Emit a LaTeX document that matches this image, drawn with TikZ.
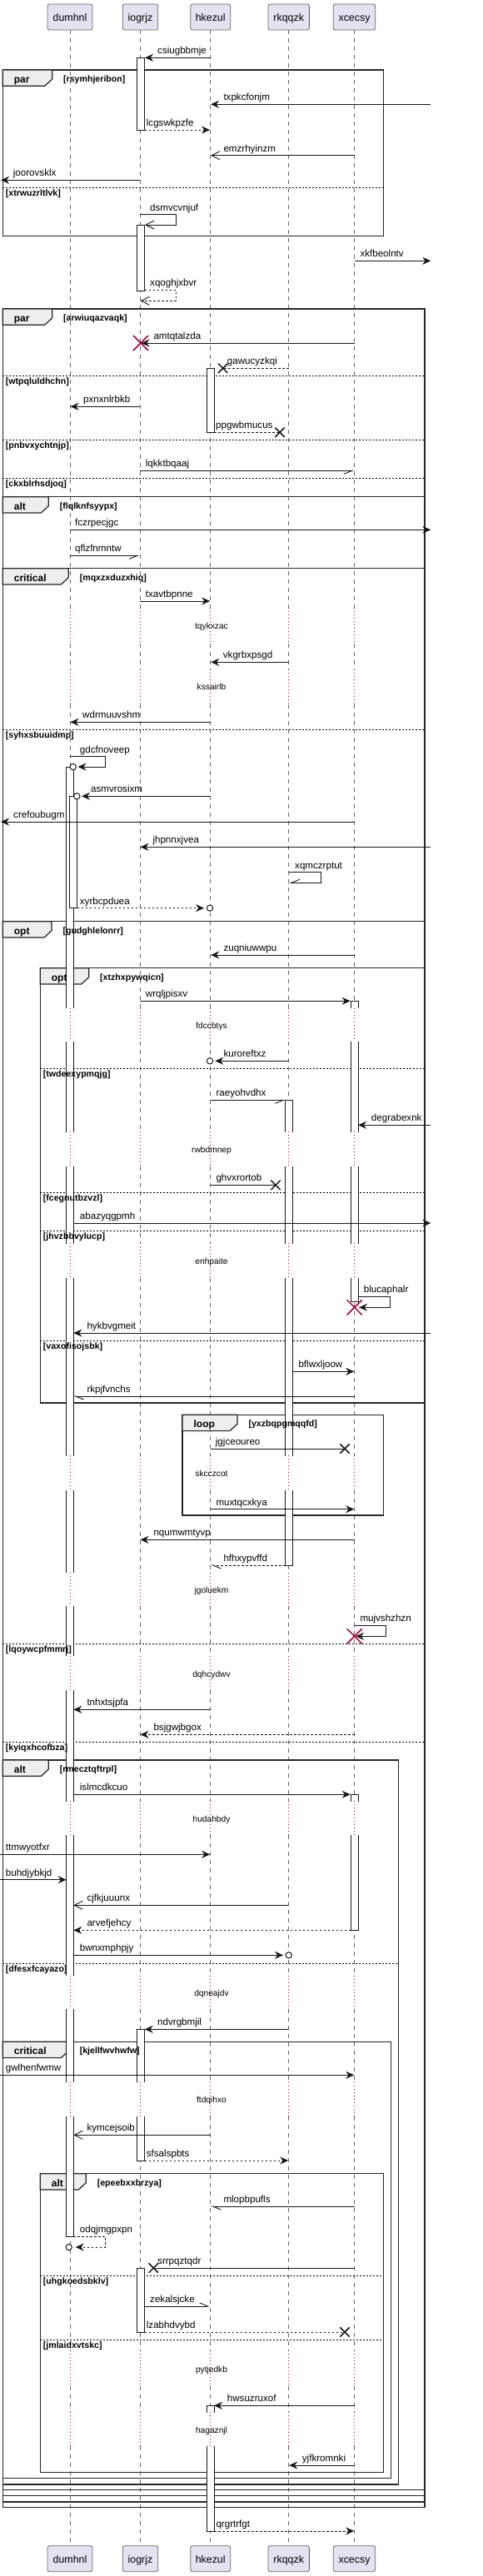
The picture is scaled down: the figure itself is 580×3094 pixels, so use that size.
\documentclass[tikz,border=0pt]{standalone}
\usepackage{fontspec}
\setmainfont{Liberation Sans}
\usetikzlibrary{arrows.meta}
\definecolor{pfill}{HTML}{E2E2F0}
\definecolor{dred}{HTML}{A80036}
\definecolor{ink}{HTML}{181818}
\definecolor{tabg}{HTML}{EEEEEE}
\tikzset{
  life/.style={draw=ink!65, line width=0.6pt, dash pattern=on 5pt off 5pt},
  delayl/.style={draw=dred, line width=0.8pt, dash pattern=on 1pt off 3pt},
  msg/.style={draw=ink, line width=0.9pt},
  dsh/.style={dash pattern=on 2.5pt off 2.5pt},
  fa/.style={-{Stealth[length=10pt,width=9pt,inset=3.3pt]}},
  oa/.style={-{Straight Barb[length=10pt,width=10pt]}},
  hr/.style={-{Straight Barb[length=10pt,width=8pt,right]}},
  hl/.style={-{Straight Barb[length=10pt,width=8pt,left]}},
  lbl/.style={font=\fontsize{11.6}{13}\selectfont, anchor=base west, inner sep=0pt},
  dly/.style={font=\fontsize{10.2}{12}\selectfont, anchor=base, inner sep=0pt},
  frame/.style={draw=black!85, line width=1.5pt},
  tabst/.style={draw=black!85, line width=1.2pt, fill=tabg},
  kw/.style={font=\bfseries\fontsize{12}{14}\selectfont, anchor=base west, inner sep=0pt},
  cond/.style={font=\bfseries\fontsize{10.6}{12}\selectfont, anchor=base west, inner sep=0pt},
  elsel/.style={draw=black, line width=0.8pt, dash pattern=on 2pt off 2pt},
  act/.style={draw=ink, line width=0.9pt, line cap=rect},
  part/.style={draw=black!60, line width=0.8pt, fill=pfill, rounded corners=2.5pt, minimum height=31pt, inner sep=0pt},
  ptxt/.style={font=\fontsize{12.4}{14}\selectfont, anchor=base, inner sep=0pt},
  xmk/.style={draw=ink, line width=1.5pt},
  rxmk/.style={draw=dred, line width=1.5pt},
  circ/.style={draw=ink, line width=1pt, fill=white},
}
\newcommand\Msg[6]{\draw[msg,#1] (#2,#4) -- (#3,#4); \node[lbl] at ({#5},{#4-4.5}) {#6};}
\newcommand\Self[8]{\draw[msg,#1] (#2,#4) -- (#3,#4) -- (#3,#5) -- (#6,#5); \node[lbl] at ({#7},{#4-4.5}) {#8};}
\newcommand\Xm[2]{\draw[xmk] ({#1-5.7},{#2-5.7}) -- ({#1+5.7},{#2+5.7}) ({#1-5.7},{#2+5.7}) -- ({#1+5.7},{#2-5.7});}
\newcommand\RXm[2]{\draw[rxmk] ({#1-9},{#2-9}) -- ({#1+9},{#2+9}) ({#1-9},{#2+9}) -- ({#1+9},{#2-9});}
\newcommand\Circ[2]{\draw[circ] (#1,#2) circle (3.7pt);}
% graphics pass
\newcommand\FrameG[7]{%
  \draw[frame] (#1,#3) rectangle (#2,#4);
  \draw[tabst] (#1,#3) -- ({#1+#5},#3) -- ({#1+#5},{#3+11}) -- ({#1+#5-9},{#3+19.3}) -- (#1,{#3+19.3}) -- cycle;}
\newcommand\ElseG[4]{\draw[elsel] (#1,#3) -- (#2,#3);}
% text pass
\newcommand\FrameT[7]{%
  \node[kw] at ({#1+13.4},{#3+15.3}) {#6};
  \node[cond] at ({#1+#5+13.3},{#3+14.3}) {#7};}
\newcommand\ElseT[4]{\node[cond] at ({#1+3.4},{#3+10}) {#4};}
\newcommand\FrameList{%
\Frame{3.3}{460.3}{84}{283.3}{59.4}{par}{[rsymhjeribon]}
\Else{3.3}{460.3}{225.3}{[xtrwuzrltlvk]}
\Frame{3.3}{510}{371}{3011.7}{59.4}{par}{[arwiuqazvaqk]}
\Else{3.3}{510}{451.3}{[wtpqluldhchn]}
\Else{3.3}{510}{528.3}{[pnbvxychtnjp]}
\Else{3.3}{510}{574.3}{[ckxblrhsdjoq]}
\Frame{3.3}{510}{596.7}{3005}{55}{alt}{[flqlknfsyypx]}
\Frame{3.3}{510}{682.7}{2997.7}{79}{critical}{[mqxzxduzxhiq]}
\Else{3.3}{510}{876}{[syhxsbuuidmp]}
\Frame{3.3}{510}{1106.7}{2990.7}{58.7}{opt}{[gudghlelonrr]}
\Frame{48.3}{510}{1162.7}{1685}{58.4}{opt}{[xtzhxpywqicn]}
\Else{48.3}{510}{1283}{[twdeexypmqjg]}
\Else{48.3}{510}{1432}{[fcegnutbzvzl]}
\Else{48.3}{510}{1478}{[jhvzbbvylucp]}
\Else{48.3}{510}{1610}{[vaxofisojsbk]}
\Frame{219}{460.3}{1699.3}{1820}{66}{loop}{[yxzbqpgmqqfd]}
\Else{3.3}{510}{1974.3}{[lqoywcpfmmrj]}
\Else{3.3}{510}{2092.3}{[kyiqxhcofbza]}
\Frame{3.3}{478.3}{2114}{2984}{55}{alt}{[rmecztqftrpl]}
\Else{3.3}{478.3}{2358.3}{[dfesxfcayazo]}
\Frame{3.3}{469.3}{2452.3}{2976.7}{79}{critical}{[kjellfwvhwfw]}
\Frame{48.3}{460.3}{2610.7}{2969.3}{55}{alt}{[epeebxxbrzya]}
\Else{48.3}{460.3}{2733}{[uhgkoedsbklv]}
\Else{48.3}{460.3}{2810}{[jmlaidxvtskc]}}
\newcommand\Act[6]{%
  \fill[white] (#1,#3) rectangle (#2,#4);
  \draw[act] (#1,#3) -- (#1,#4) (#2,#3) -- (#2,#4);
  \ifnum#5=1 \draw[act] (#1,#3) -- (#2,#3);\fi
  \ifnum#6=1 \draw[act] (#1,#4) -- (#2,#4);\fi}

\begin{document}
\begin{tikzpicture}[x=1pt,y=-1pt]
\fill[white] (0,0) rectangle (580,3094);
\useasboundingbox (0,0) rectangle (580,3094);

% lifelines
\foreach \lx in {84,168,252.7,346.7,425.7} {
  \foreach \a/\b in {36/730, 773/804, 846/1211, 1251/1359.3, 1401/1493.3, 1535/1748.3, 1790/1889, 1929.3/1989, 2030/2163.3, 2204.3/2372.7, 2413.3/2500.7, 2542.3/2823.3, 2866/2897.3, 2938.3/3057.3}
    \draw[life] (\lx,\a) -- (\lx,\b);
  \foreach \a/\b in {730/773, 804/846, 1211/1251, 1359.3/1401, 1493.3/1535, 1748.3/1790, 1889/1929.3, 1989/2030, 2163.3/2204.3, 2372.7/2413.3, 2500.7/2542.3, 2823.3/2866, 2897.3/2938.3}
    \draw[delayl] (\lx,\a) -- (\lx,\b);
}
% delay texts
\foreach \t/\ty in {tqykxzac/752.3, kssairlb/825.3, fdccbtys/1232.3, rwbdmnep/1381.7, enhpaite/1515, skcczcot/1770, jgoluekm/1910.7, dqhcydwv/2011.7, hudahbdy/2185.7, dqneajdv/2394.3, ftdqihxo/2522.7, pytjedkb/2846.7, hagaznjl/2919.3}
  \node[dly] at (254,\ty+3) {\t};

% frames: graphics
\let\Frame\FrameG \let\Else\ElseG
\FrameList

% activations
\Act{164.3}{173.7}{69.3}{156}{1}{1}
\Act{164.3}{173.7}{270}{349.3}{1}{1}
\Act{248.3}{257}{442.3}{519.3}{1}{1}
\Act{79.7}{88.3}{921}{1211}{1}{0}
\Act{79.7}{88.3}{1251}{1359.3}{0}{0}
\Act{79.7}{88.3}{1401}{1493.3}{0}{0}
\Act{79.7}{88.3}{1535}{1748.3}{0}{0}
\Act{79.7}{88.3}{1790}{1889}{0}{0}
\Act{79.7}{88.3}{1929.3}{1989}{0}{0}
\Act{79.7}{88.3}{2030}{2163.3}{0}{0}
\Act{79.7}{88.3}{2204.3}{2372.7}{0}{0}
\Act{79.7}{88.3}{2413.3}{2500.7}{0}{0}
\Act{79.7}{88.3}{2542.3}{2686}{0}{1}
\Act{83.7}{92.7}{956.3}{1090.7}{1}{1}
\Act{421.3}{430}{1202.3}{1211}{1}{0}
\Act{421.3}{430}{1251}{1359.3}{0}{0}
\Act{421.3}{430}{1401}{1493.3}{0}{0}
\Act{421.3}{430}{1535}{1563.3}{0}{1}
\Act{342.7}{351.7}{1321.3}{1359.3}{1}{0}
\Act{342.7}{351.7}{1401}{1493.3}{0}{0}
\Act{342.7}{351.7}{1535}{1748.3}{0}{0}
\Act{342.7}{351.7}{1790}{1880}{0}{1}
\Act{421.3}{430}{2155.3}{2163.3}{1}{0}
\Act{421.3}{430}{2204.3}{2318.3}{0}{1}
\Act{164.3}{173.7}{2437.3}{2500.7}{1}{0}
\Act{164.3}{173.7}{2542.3}{2595}{0}{1}
\Act{164.3}{173.7}{2724}{2801}{1}{1}
\Act{248.3}{257}{2889.3}{2897.3}{1}{0}
\Act{248.3}{257}{2938.3}{3040}{0}{1}

% frames: texts
\let\Frame\FrameT \let\Else\ElseT
\FrameList

% messages
\Msg{fa}{252.7}{174}{69.3}{189}{csiugbbmje}
\Msg{fa}{517.3}{253}{125.3}{268.3}{txpkcfonjm}
\Msg{fa,dsh}{173.7}{252}{156}{175.7}{lcgswkpzfe}
\Msg{oa}{425.7}{253}{186.7}{268.3}{emzrhyinzm}
\Msg{fa}{168}{1}{216.3}{15.7}{joorovsklx}
\Self{oa}{168}{211.3}{257.7}{270}{174}{180}{dsmvcvnjuf}
\Msg{fa}{425.7}{517.3}{313.3}{432.3}{xkfbeolntv}
\Self{oa,dsh}{173.7}{211.3}{348.3}{361.3}{168.5}{180}{xqoghjxbvr}
\Msg{fa}{425.7}{169.5}{412}{184.3}{amtqtalzda}
\RXm{169}{412}
\Msg{dsh}{346.7}{267.7}{442.3}{272.7}{gawucyzkqi}
\Xm{267.7}{442.3}
\Msg{fa}{168}{84.5}{488.3}{100}{pxnxnlrbkb}
\Msg{dsh}{257}{336}{519.3}{259}{ppgwbmucus}
\Xm{336}{519.3}
\Msg{hr}{168}{425.2}{565.3}{174.7}{lqkktbqaaj}
\Msg{fa}{84}{517.3}{636.3}{90}{fczrpecjgc}
\Msg{hr}{84}{167.5}{667.3}{90}{qflzfnmntw}
\Msg{fa}{168}{252.2}{722}{174.7}{txavtbpnne}
\Msg{fa}{346.7}{253.2}{795.3}{267.7}{vkgrbxpsgd}
\Msg{fa}{252.7}{84.5}{867.3}{99}{wdrmuuvshm}
\Self{fa}{84}{126.3}{908.7}{921}{93.5}{95.7}{gdcfnoveep}
\Circ{87.7}{921}
\Msg{fa}{252.7}{98}{956.3}{109}{asmvrosixm}
\Circ{92.3}{956.3}
\Msg{fa}{425.7}{1}{987}{16}{crefoubugm}
\Msg{fa}{517.3}{168.5}{1017.3}{183.3}{jhpnnxjvea}
\Self{hr}{346.7}{385}{1047.7}{1060.3}{347.5}{354}{xqmczrptut}
\Msg{fa,dsh}{92.7}{245}{1090.7}{95.7}{xyrbcpduea}
\Circ{252}{1090.7}
\Msg{fa}{425.7}{253.2}{1147}{268.3}{zuqniuwwpu}
\Msg{fa}{168}{420.7}{1202.3}{174.7}{wrqljpisxv}
\Msg{fa}{346.7}{258.3}{1274.3}{268.3}{kuroreftxz}
\Circ{252}{1274.3}
\Msg{hr}{252.7}{342.7}{1321.3}{259.3}{raeyohvdhx}
\Msg{fa}{517.3}{430}{1351.3}{445.7}{degrabexnk}
\Msg{}{252.7}{331}{1423.3}{259.3}{ghvxrortob}
\Xm{331}{1423.3}
\Msg{fa}{88.3}{517.3}{1469}{95.7}{abazyqgpmh}
\Self{fa}{430}{468.3}{1557.3}{1570.3}{431}{436.7}{blucaphalr}
\RXm{425.7}{1570.3}
\Msg{fa}{517.3}{88.3}{1601}{104.3}{hykbvgmeit}
\Msg{fa}{351.7}{425.2}{1647.3}{358.3}{bflwxljoow}
\Msg{hl}{425.7}{88.3}{1677}{104.3}{rkpjfvnchs}
\Msg{}{252.7}{414}{1740}{258.7}{jgjceoureo}
\Xm{414}{1740}
\Msg{fa}{252.7}{425.2}{1812.7}{259.3}{muxtqcxkya}
\Msg{fa}{425.7}{168.5}{1849.3}{184.3}{nqumwmtyvp}
\Msg{hl,dsh}{342.7}{253.2}{1880}{268.3}{hfhxypvffd}
\Self{fa}{425.7}{463.3}{1952.3}{1965.3}{427}{432.3}{mujvshzhzn}
\RXm{425.7}{1965.3}
\Msg{fa}{252.7}{88.3}{2053.3}{104.3}{tnhxtsjpfa}
\Msg{fa,dsh}{425.7}{168.5}{2083.3}{184.3}{bsjgwjbgox}
\Msg{fa}{88.3}{420.7}{2155.3}{95.7}{islmcdkcuo}
\Msg{fa}{0}{252.2}{2227.3}{6.7}{ttmwyotfxr}
\Msg{fa}{0}{79.7}{2257.7}{6.7}{buhdjybkjd}
\Msg{oa}{346.7}{88.3}{2288.3}{104.3}{cjfkjuuunx}
\Msg{fa,dsh}{421.3}{88.3}{2318.3}{104.3}{arvefjehcy}
\Msg{fa}{88.3}{340}{2348.3}{95.7}{bwnxmphpjy}
\Circ{346.7}{2348.3}
\Msg{fa}{346.7}{173.7}{2437.3}{189}{ndvrgbmjil}
\Msg{fa}{0}{425.2}{2492.3}{6.7}{gwlhenfwmw}
\Msg{oa}{252.7}{88.3}{2564.3}{104.3}{kymcejsoib}
\Msg{fa,dsh}{173.7}{346.2}{2595}{175.7}{sfsalspbts}
\Msg{hl}{425.7}{253.2}{2650}{268.3}{mlopbpufls}
\Self{fa,dsh}{88.3}{126.3}{2686}{2699}{90.7}{95.7}{odqjmgpxpn}
\Circ{82.7}{2699}
\Msg{}{425.7}{184.3}{2724}{189}{srrpqztqdr}
\Xm{184.3}{2724}
\Msg{hl}{173.7}{252.2}{2770}{180}{zekalsjcke}
\Msg{dsh}{173.7}{414}{2801}{175.7}{lzabhdvybd}
\Xm{414}{2801}
\Msg{fa}{425.7}{257}{2889.3}{272.7}{hwsuzruxof}
\Msg{fa}{425.7}{347.2}{2961}{362.7}{yjfkromnki}
\Msg{fa,dsh}{257}{425.2}{3040}{259.3}{qrgrtrfgt}

% participants
\foreach \nm/\cx/\w in {dumhnl/84/54, iogrjz/168.5/42.4, hkezul/252.7/48, rkqqzk/346.7/49.3, xcecsy/425.5/50.4} {
  \node[part, minimum width=\w pt] (top-\nm) at (\cx,20.5) {};
  \node[ptxt] at (\cx,26) {\nm};
  \node[part, minimum width=\w pt] (bot-\nm) at (\cx,3073.2) {};
  \node[ptxt] at (\cx,3078.7) {\nm};
}
\end{tikzpicture}
\end{document}
